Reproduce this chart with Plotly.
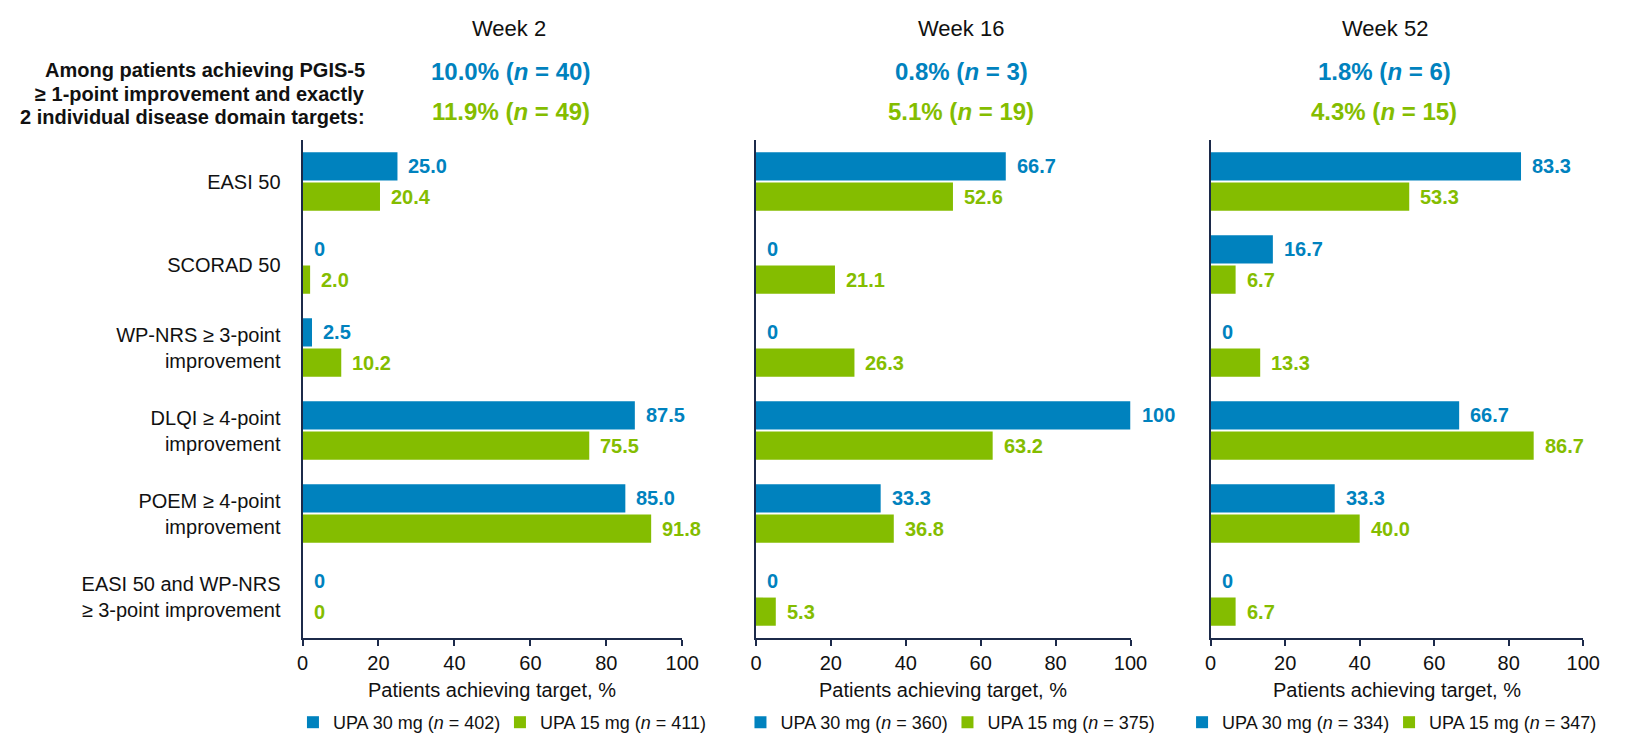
import plotly.graph_objects as go

# ---------------- data ----------------
categories = [
    "EASI 50",
    "SCORAD 50",
    "WP-NRS ≥ 3-point<br>improvement",
    "DLQI ≥ 4-point<br>improvement",
    "POEM ≥ 4-point<br>improvement",
    "EASI 50 and WP-NRS<br>≥ 3-point improvement",
]
weeks = ["Week 2", "Week 16", "Week 52"]
upa30_w2 = [25.0, 0, 2.5, 87.5, 85.0, 0]
upa15_w2 = [20.4, 2.0, 10.2, 75.5, 91.8, 0]
upa30_w16 = [66.7, 0, 0, 100, 33.3, 0]
upa15_w16 = [52.6, 21.1, 26.3, 63.2, 36.8, 5.3]
upa30_w52 = [83.3, 16.7, 0, 66.7, 33.3, 0]
upa15_w52 = [53.3, 6.7, 13.3, 86.7, 40.0, 6.7]
n_upa30 = [402, 360, 334]
n_upa15 = [411, 375, 347]
pct_upa30 = ["10.0%", "0.8%", "1.8%"]
cnt_upa30 = [40, 3, 6]
pct_upa15 = ["11.9%", "5.1%", "4.3%"]
cnt_upa15 = [49, 19, 15]
x_ticks = [0, 20, 40, 60, 80, 100]
header_left_lines = [
    "Among patients achieving PGIS-5",
    "≥ 1-point improvement and exactly",
    "2 individual disease domain targets:",
]
axis_title = "Patients achieving target, %"

# ---------------- style ----------------
PAGE_W, PAGE_H = 1625, 749
OFF = 8  # default page body margin
W, H = PAGE_W - 2 * OFF, PAGE_H - 2 * OFF
BLUE = "#0082BE"
GREEN = "#84BD00"
AXIS = "#1C2A4A"
TXT = "#111111"
FONT = "Arial, 'Liberation Sans', sans-serif"

x_dom_px = [(300.7, 686.0), (760.7, 1140.7), (1222.0, 1600.0)]
y_top_px, y_bot_px = 140.0, 638.0
header_cx = [510, 969, 1399]
value_cx = [512, 969, 1398]
left_line_y = [70.5, 93.5, 117]
legend_x_px = [291, 745, 1613]
legend_xanchor = ["left", "left", "right"]


def px_x(p):
    return (p - OFF) / W


def px_y(p):
    return 1 - (p - OFF) / H


def fmt(v):
    if v == 0:
        return "0"
    if v == 100:
        return "100"
    return f"{v:.1f}"


series30 = [upa30_w2, upa30_w16, upa30_w52]
series15 = [upa15_w2, upa15_w16, upa15_w52]

fig = go.Figure()
annotations = []

for i in range(3):
    sfx = "" if i == 0 else str(i + 1)
    xa, ya = "x" + sfx, "y" + sfx
    leg = "legend" + sfx
    fig.add_trace(go.Bar(
        y=categories, x=series30[i], orientation="h",
        name=f"UPA 30 mg (<i>n</i> = {n_upa30[i]})",
        marker=dict(color=BLUE, line=dict(width=0)),
        xaxis=xa, yaxis=ya, legend=leg, hoverinfo="x+y",
    ))
    fig.add_trace(go.Bar(
        y=categories, x=series15[i], orientation="h",
        name=f"UPA 15 mg (<i>n</i> = {n_upa15[i]})",
        marker=dict(color=GREEN, line=dict(width=0)),
        xaxis=xa, yaxis=ya, legend=leg, hoverinfo="x+y",
    ))
    for cat, v in zip(categories, series30[i]):
        annotations.append(dict(
            x=v, y=cat, xref=xa, yref=ya, text=f"<b>{fmt(v)}</b>",
            showarrow=False, xanchor="left", yanchor="middle",
            xshift=9, yshift=15.5,
            font=dict(family=FONT, size=20, color=BLUE),
        ))
    for cat, v in zip(categories, series15[i]):
        annotations.append(dict(
            x=v, y=cat, xref=xa, yref=ya, text=f"<b>{fmt(v)}</b>",
            showarrow=False, xanchor="left", yanchor="middle",
            xshift=9, yshift=-15.5,
            font=dict(family=FONT, size=20, color=GREEN),
        ))
    annotations.append(dict(
        x=px_x(header_cx[i]), y=px_y(29), xref="paper", yref="paper",
        text=weeks[i], showarrow=False, xanchor="center", yanchor="middle",
        font=dict(family=FONT, size=22, color=TXT),
    ))
    annotations.append(dict(
        x=px_x(value_cx[i]), y=px_y(71.5), xref="paper", yref="paper",
        text=f"<b>{pct_upa30[i]} (<i>n</i> = {cnt_upa30[i]})</b>",
        showarrow=False, xanchor="center", yanchor="middle",
        font=dict(family=FONT, size=24, color=BLUE),
    ))
    annotations.append(dict(
        x=px_x(value_cx[i]), y=px_y(111), xref="paper", yref="paper",
        text=f"<b>{pct_upa15[i]} (<i>n</i> = {cnt_upa15[i]})</b>",
        showarrow=False, xanchor="center", yanchor="middle",
        font=dict(family=FONT, size=24, color=GREEN),
    ))
    x0, x1 = x_dom_px[i]
    annotations.append(dict(
        x=px_x((x0 + x1) / 2), y=px_y(690), xref="paper", yref="paper",
        text=axis_title, showarrow=False, xanchor="center", yanchor="middle",
        font=dict(family=FONT, size=20, color=TXT),
    ))

for line, ly in zip(header_left_lines, left_line_y):
    annotations.append(dict(
        x=px_x(366), y=px_y(ly), xref="paper", yref="paper",
        text=f"<b>{line}</b>", showarrow=False, xanchor="right", yanchor="middle",
        align="right", font=dict(family=FONT, size=20, color=TXT),
    ))

layout = dict(
    width=W, height=H,
    margin=dict(l=0, r=0, t=0, b=0),
    paper_bgcolor="white", plot_bgcolor="white",
    barmode="group", bargap=0.27, bargroupgap=0.07,
    font=dict(family=FONT, color=TXT),
    annotations=annotations,
    showlegend=True,
)

for i in range(3):
    sfx = "" if i == 0 else str(i + 1)
    x0, x1 = x_dom_px[i]
    layout["xaxis" + sfx] = dict(
        domain=[px_x(x0), px_x(x1)], range=[0, 100], anchor="y" + sfx,
        tickvals=x_ticks, ticks="outside", ticklen=6, tickwidth=1.5, tickcolor=AXIS,
        showline=True, linecolor=AXIS, linewidth=2, showgrid=False, zeroline=False,
        tickfont=dict(family=FONT, size=20, color=TXT), fixedrange=True,
    )
    layout["yaxis" + sfx] = dict(
        domain=[px_y(y_bot_px), px_y(y_top_px)], anchor="x" + sfx,
        type="category", categoryorder="array", categoryarray=categories,
        range=[5.5, -0.5], showline=True, linecolor=AXIS, linewidth=2,
        showgrid=False, zeroline=False, ticks="",
        showticklabels=(i == 0), ticklabelstandoff=16,
        tickfont=dict(family=FONT, size=20, color=TXT), fixedrange=True,
    )
    layout["legend" + sfx] = dict(
        orientation="h", x=px_x(legend_x_px[i]), xanchor=legend_xanchor[i],
        y=0, yanchor="bottom", bgcolor="rgba(0,0,0,0)",
        font=dict(family=FONT, size=18, color=TXT), traceorder="normal",
        entrywidth=162, entrywidthmode="pixels",
        itemclick=False, itemdoubleclick=False,
    )

fig.update_layout(**layout)
fig.write_html("out.html", config={"displayModeBar": False})
